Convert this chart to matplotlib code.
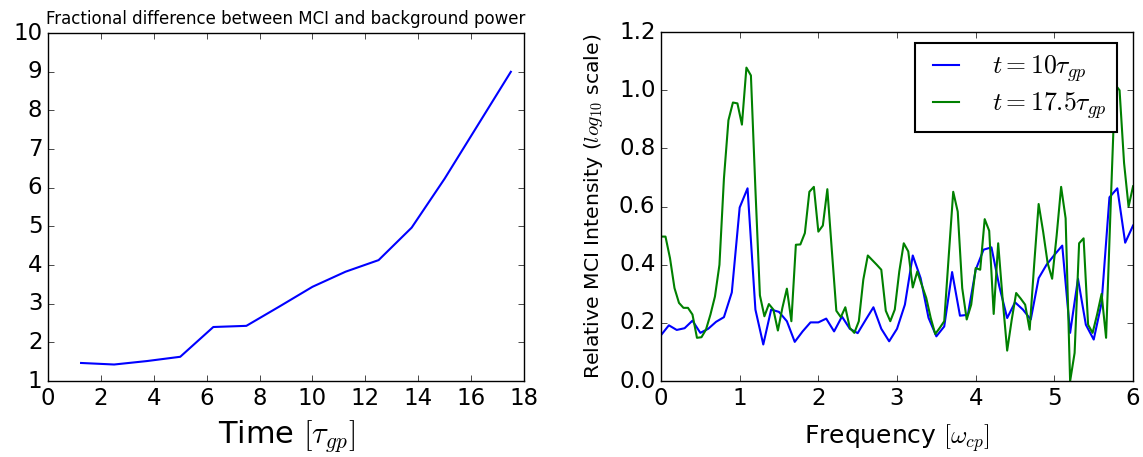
import numpy as np
import matplotlib
matplotlib.use("Agg")
import matplotlib.pyplot as plt

# Left panel: fractional difference vs time
time_vals = [1.25, 2.5, 3.75, 5.0, 6.25, 7.5, 8.75, 10.0, 11.25, 12.5, 13.75, 15.0, 16.25, 17.5]
frac_diff = [1.47, 1.43, 1.52, 1.63, 2.40, 2.43, 2.93, 3.44, 3.83, 4.13, 4.97, 6.24, 7.62, 9.0]

# Right panel: MCI spectra (blue sampled at 1/10, green at 1/17.5)
freq_t10 = np.arange(61) / 10.0
mci_t10 = [0.158, 0.192, 0.176, 0.182, 0.208, 0.166, 0.180, 0.204, 0.220, 0.305,
           0.597, 0.663, 0.246, 0.126, 0.246, 0.238, 0.206, 0.135, 0.171, 0.202,
           0.202, 0.215, 0.171, 0.222, 0.180, 0.165, 0.210, 0.254, 0.180, 0.137,
           0.180, 0.263, 0.432, 0.354, 0.218, 0.154, 0.188, 0.375, 0.225, 0.228,
           0.383, 0.452, 0.460, 0.326, 0.217, 0.271, 0.246, 0.212, 0.354, 0.400,
           0.434, 0.466, 0.166, 0.352, 0.194, 0.143, 0.269, 0.632, 0.663, 0.476,
           0.535]

freq_t175 = np.arange(106) / 17.5
mci_t175 = [0.497, 0.497, 0.423, 0.320, 0.269, 0.252, 0.252, 0.229, 0.149, 0.151,
            0.177, 0.229, 0.291, 0.400, 0.697, 0.897, 0.958, 0.955, 0.882, 1.078,
            1.051, 0.660, 0.295, 0.223, 0.265, 0.246, 0.174, 0.252, 0.318, 0.206,
            0.469, 0.470, 0.509, 0.651, 0.668, 0.514, 0.535, 0.660, 0.450, 0.242,
            0.220, 0.254, 0.183, 0.166, 0.206, 0.349, 0.432, 0.416, 0.400, 0.383,
            0.242, 0.206, 0.246, 0.377, 0.474, 0.446, 0.322, 0.377, 0.331, 0.286,
            0.217, 0.162, 0.183, 0.206, 0.430, 0.651, 0.583, 0.320, 0.212, 0.263,
            0.389, 0.383, 0.557, 0.517, 0.231, 0.474, 0.280, 0.105, 0.210, 0.303,
            0.284, 0.263, 0.177, 0.400, 0.609, 0.514, 0.406, 0.352, 0.500, 0.668,
            0.560, 0.000, 0.097, 0.474, 0.491, 0.194, 0.166, 0.229, 0.300, 0.149,
            0.594, 1.020, 1.000, 0.750, 0.600, 0.670]

plt.style.use("classic")
fig = plt.figure(figsize=(11.43, 4.57), dpi=100, facecolor="white")

# left plot
ax1 = fig.add_axes([0.042, 0.166, 0.4165, 0.7615])
ax1.plot(time_vals, frac_diff, color="b", lw=1.5)
ax1.set_xlim(0, 18)
ax1.set_ylim(1, 10)
ax1.set_xticks(range(0, 19, 2))
ax1.set_yticks(range(1, 11))
ax1.tick_params(labelsize=16.5)
ax1.set_xlabel(r"Time $[\tau_{gp}]$", fontsize=22, labelpad=6)
ax1.set_title("Fractional difference between MCI and background power", fontsize=12, y=1.005)

# right plot
ax2 = fig.add_axes([0.5783, 0.166, 0.413, 0.7637])
ax2.plot(freq_t10, mci_t10, color="b", lw=1.5, label=r"$t=10\tau_{gp}$")
ax2.plot(freq_t175, mci_t175, color="g", lw=1.5, label=r"$t=17.5\tau_{gp}$")
ax2.set_xlim(0, 6)
ax2.set_ylim(0, 1.2)
ax2.set_xticks(range(0, 7))
ax2.set_yticks(np.arange(0, 1.21, 0.2))
ax2.tick_params(labelsize=16.5)
ax2.set_xlabel(r"Frequency $[\omega_{cp}]$", fontsize=18, labelpad=9)
ax2.set_ylabel(r"Relative MCI Intensity ($log_{10}$ scale)", fontsize=14.7, labelpad=10)
leg = ax2.legend(loc="upper right", bbox_to_anchor=(0.966, 0.969), borderaxespad=0,
                 fontsize=18.5, handlelength=1.6, handletextpad=1.0, labelspacing=0.25)
leg.get_frame().set_linewidth(1.5)

fig.savefig("out.png", dpi=100, facecolor="white")
